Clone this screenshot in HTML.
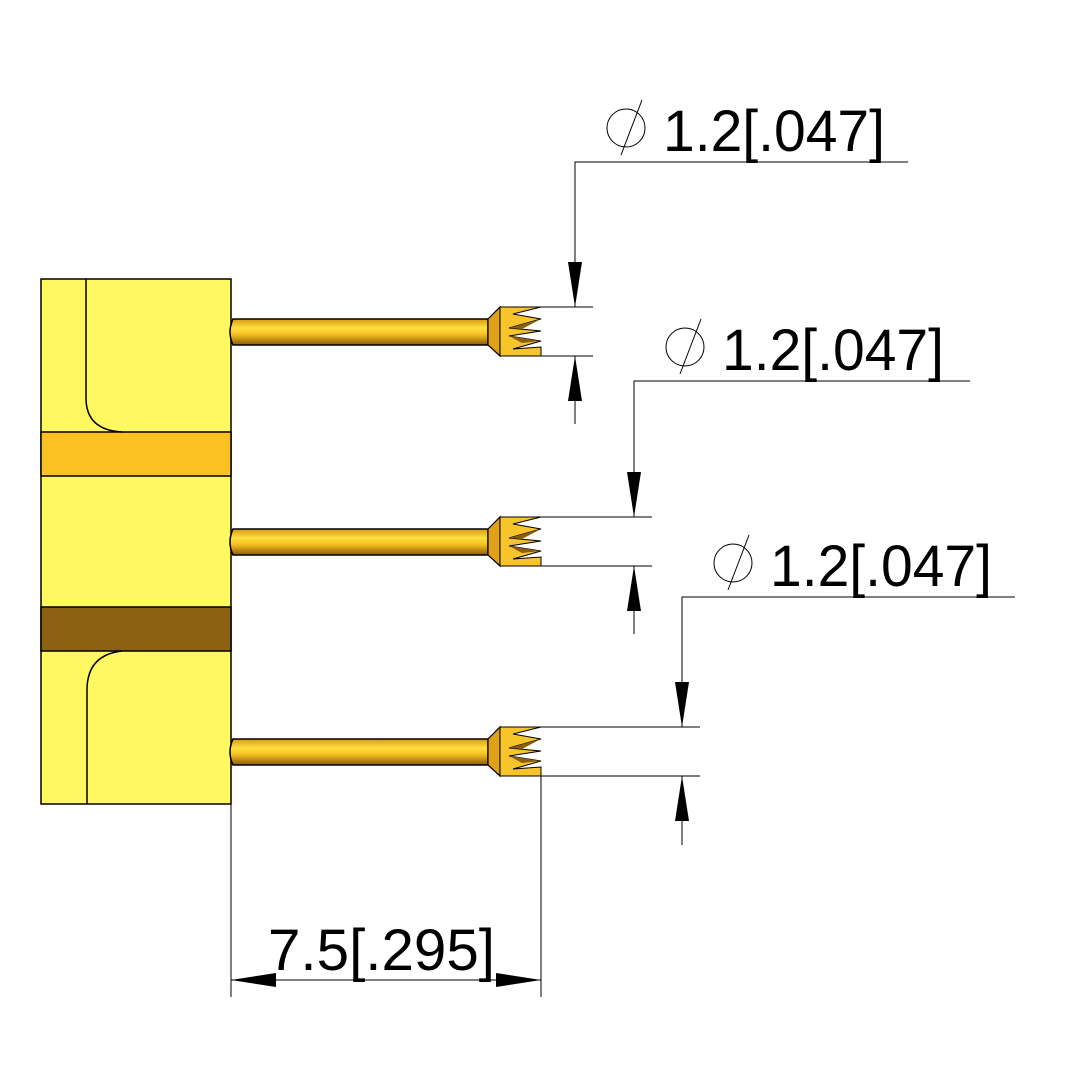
<!DOCTYPE html>
<html><head><meta charset="utf-8"><style>html,body{margin:0;padding:0;background:#fff}svg{display:block}</style></head>
<body>
<svg width="1082" height="1083" viewBox="0 0 1082 1083" xmlns="http://www.w3.org/2000/svg">
<defs>
<linearGradient id="tube" x1="0" y1="0" x2="0" y2="1">
<stop offset="0" stop-color="#d89a10"/><stop offset="0.35" stop-color="#ffe040"/><stop offset="0.6" stop-color="#f5c020"/><stop offset="1" stop-color="#8a5a08"/>
</linearGradient>
<g id="pin">
<path d="M233,-12 L488,-12 L488,14 L233,14 Q227,1 233,-12Z" fill="url(#tube)" stroke="#000" stroke-width="1.5"/>
<path d="M488,-12 L500,-24 L500,25 L488,14Z" fill="#e0a018" stroke="#000" stroke-width="1.2"/>
<path d="M500,-24 L541,-24 L513,-17 L541,-12 L509,-3 L541,0 L509,5 L541,10 L513,18 L541,16 L541,25 L500,25Z" fill="#f7c52a" stroke="#000" stroke-width="1"/>
<path d="M509,-3 L541,-12 L522,-2Z M509,5 L541,10 L522,12Z" fill="#8a6010"/>
</g>
<g id="dia">
<circle cx="0" cy="0" r="19" fill="none" stroke="#000" stroke-width="1"/>
<line x1="-5" y1="27" x2="16" y2="-28" stroke="#000" stroke-width="1"/>
</g>
</defs>
<rect x="41" y="279" width="190" height="525" fill="#fff860" stroke="#000" stroke-width="1.5"/>
<rect x="41" y="432" width="190" height="44" fill="#fdc124" stroke="#000" stroke-width="1.5"/>
<rect x="41" y="607" width="190" height="44" fill="#8a6212" stroke="#000" stroke-width="1.5"/>
<path d="M86,279 L86,398 Q86,430 122,432" fill="none" stroke="#000" stroke-width="1.5"/>
<path d="M122,651 Q87,655 87,690 L87,804" fill="none" stroke="#000" stroke-width="1.5"/>
<use href="#pin" transform="translate(0,331)"/>
<use href="#pin" transform="translate(0,541)"/>
<use href="#pin" transform="translate(0,751)"/>
<g stroke="#000" stroke-width="1" fill="none">
<line x1="541" y1="307" x2="593" y2="307"/><line x1="541" y1="356" x2="593" y2="356"/>
<polyline points="908,162 575,162 575,307"/><line x1="575" y1="356" x2="575" y2="424"/>
<line x1="541" y1="517" x2="652" y2="517"/><line x1="541" y1="566" x2="652" y2="566"/>
<polyline points="970,381 634,381 634,517"/><line x1="634" y1="566" x2="634" y2="634"/>
<line x1="541" y1="727" x2="700" y2="727"/><line x1="541" y1="776" x2="700" y2="776"/>
<polyline points="1015,597 682,597 682,727"/><line x1="682" y1="776" x2="682" y2="845"/>
<line x1="231" y1="804" x2="231" y2="997"/><line x1="541" y1="776" x2="541" y2="997"/>
<line x1="231" y1="980" x2="541" y2="980"/>
</g>
<g fill="#000">
<path d="M575,307 L568,262 L582,262Z"/><path d="M575,356 L568,401 L582,401Z"/>
<path d="M634,517 L627,472 L641,472Z"/><path d="M634,566 L627,611 L641,611Z"/>
<path d="M682,727 L675,682 L689,682Z"/><path d="M682,776 L675,821 L689,821Z"/>
<path d="M231,980 L276,973 L276,987Z"/><path d="M541,980 L496,973 L496,987Z"/>
</g>
<use href="#dia" transform="translate(626,128)"/>
<use href="#dia" transform="translate(685,347)"/>
<use href="#dia" transform="translate(733,563)"/>
<g font-family="Liberation Sans, sans-serif" font-size="58" fill="#000">
<text x="663" y="151" textLength="222" lengthAdjust="spacingAndGlyphs">1.2[.047]</text>
<text x="722" y="370" textLength="222" lengthAdjust="spacingAndGlyphs">1.2[.047]</text>
<text x="770" y="586" textLength="222" lengthAdjust="spacingAndGlyphs">1.2[.047]</text>
<text x="268" y="970" textLength="227" lengthAdjust="spacingAndGlyphs">7.5[.295]</text>
</g>
</svg>
</body></html>
